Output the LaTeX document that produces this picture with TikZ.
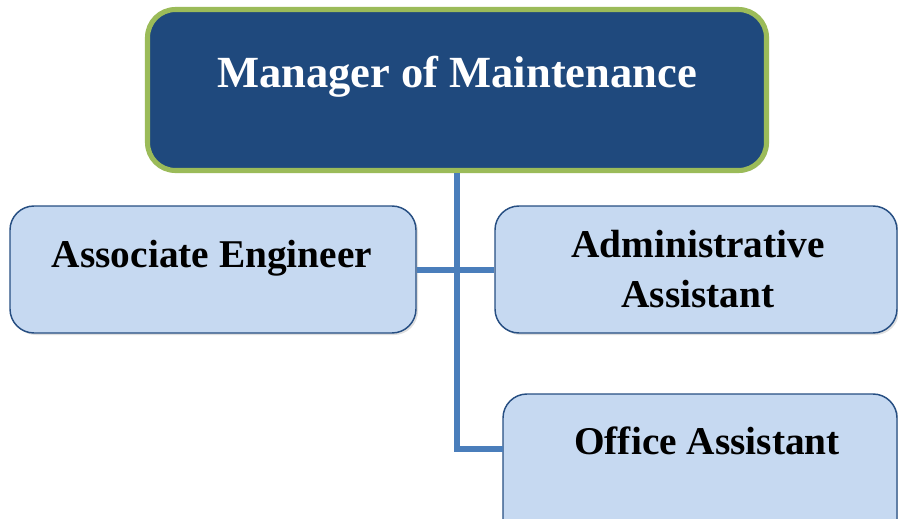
\documentclass[tikz,border=0pt]{standalone}
\usepackage{fontspec}
\setmainfont{Liberation Serif}
\usepackage{xcolor}
\definecolor{headnavy}{HTML}{1F497D}
\definecolor{headgreen}{HTML}{9BBB59}
\definecolor{staffblue}{HTML}{C6D9F1}
\definecolor{staffedge}{HTML}{264E82}
\definecolor{linkblue}{HTML}{4A7EBB}
\usepackage{tikz}
\usetikzlibrary{positioning, fit, shadows}

\tikzset{
    headbox/.style={draw=headgreen, fill=headnavy, line width=3.8pt, rounded corners=21pt, inner sep=0pt,
        drop shadow={opacity=0.25, shadow xshift=1.5pt, shadow yshift=-1.5pt}},
    staffbox/.style={draw=staffedge, fill=staffblue, line width=1.1pt, rounded corners=18pt, inner sep=0pt,
        drop shadow={opacity=0.25, shadow xshift=1.5pt, shadow yshift=-1.5pt}},
    headtext/.style={font=\fontsize{33.4}{40}\selectfont\bfseries, text=white, anchor=base, inner sep=0pt},
    stafftext/.style={font=\fontsize{29.5}{37.5}\selectfont\bfseries, text=black, anchor=base, inner sep=0pt, align=center},
    link/.style={draw=linkblue, line width=4.5pt}
}

\begin{document}
\begin{tikzpicture}[x=0.75pt, y=-0.75pt]
    \useasboundingbox (0,0) rectangle (898,518);

    % boxes
    \node[headbox, fit={(147.5,9.5) (766.5,170.5)}] (head) {};
    \node[staffbox, fit={(10,206) (416,333)}] (assoc) {};
    \node[staffbox, fit={(495,206) (897,333)}] (admin) {};
    \node[staffbox, fit={(503,394) (897,545)}] (office) {};

    % connectors
    \coordinate (officetap) at (503,449);
    \draw[link] (head.south) |- (officetap);
    \draw[link] (assoc.east) -- (admin.west);

    % labels
    \node[headtext] (headlabel) at (457,87) {Manager of Maintenance};
    \node[stafftext] (assoclabel) at (212,267) {Associate Engineer};
    \node[stafftext] (adminlabel1) at (698,257) {Administrative};
    \node[stafftext] (adminlabel2) at (698,307) {Assistant};
    \node[stafftext] (officelabel) at (707,454) {Office Assistant};
\end{tikzpicture}
\end{document}
